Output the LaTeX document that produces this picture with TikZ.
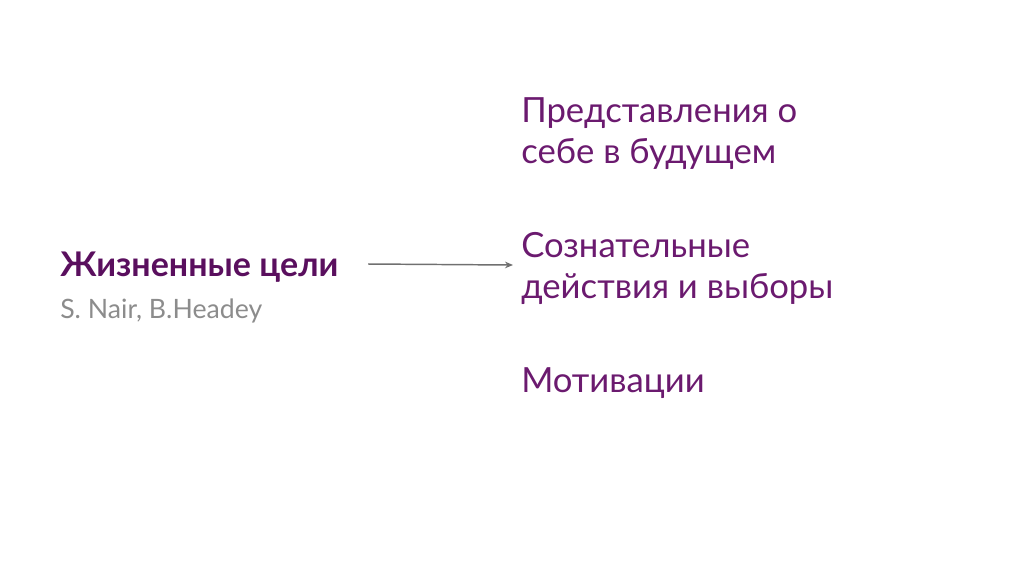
\documentclass[tikz,border=0pt]{standalone}
\usepackage{fontspec}
\usetikzlibrary{arrows.meta}
\setmainfont{Lato}
\definecolor{titlec}{HTML}{5A0F5E}
\definecolor{itemc}{HTML}{6B1A6F}
\definecolor{subc}{HTML}{8C8C8C}
\definecolor{arrc}{HTML}{707070}
\tikzset{
  title/.style={anchor=base west, inner sep=0pt, text=titlec, font=\bfseries\fontsize{25.5}{30}\selectfont},
  sub/.style={anchor=base west, inner sep=0pt, text=subc, font=\fontsize{20}{24}\selectfont},
  item/.style={anchor=base west, inner sep=0pt, text=itemc, align=left, font=\fontsize{26}{30.75}\selectfont},
  conn/.style={draw=arrc, line width=1.1pt, -{Stealth[length=6pt,width=5pt]}}
}
\begin{document}
\begin{tikzpicture}[x=0.75pt,y=-0.75pt]
\useasboundingbox (0,0) rectangle (1024,576);
\node[title] (t) at (60,276) {Жизненные цели};
\node[sub] (s) at (60,318) {S. Nair, B.Headey};
\node[item] (a) at (521,163) {Представления о\\себе в будущем};
\node[item] (b) at (521,298) {Сознательные\\действия и выборы};
\node[item] (c) at (521,392) {Мотивации};
\coordinate (from) at (368,264);
\coordinate (to) at (513,265);
\draw[conn] (from) -- (to);
\end{tikzpicture}
\end{document}
